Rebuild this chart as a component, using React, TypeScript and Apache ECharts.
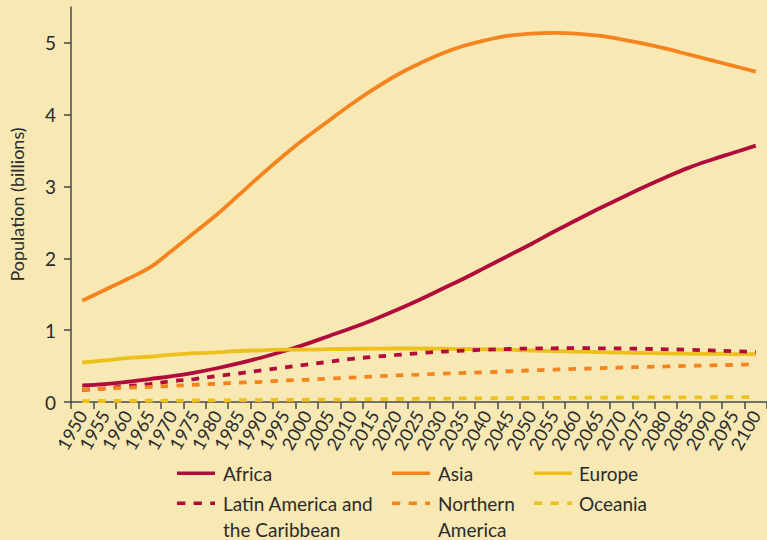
import React, { useEffect, useRef } from 'react';
import * as echarts from 'echarts';

const years = ['1950','1955','1960','1965','1970','1975','1980','1985','1990','1995','2000','2005','2010','2015','2020','2025','2030','2035','2040','2045','2050','2055','2060','2065','2070','2075','2080','2085','2090','2095','2100'];

const africa = [0.23,0.25,0.28,0.32,0.36,0.41,0.47,0.54,0.62,0.71,0.81,0.92,1.03,1.15,1.28,1.42,1.57,1.72,1.88,2.04,2.2,2.37,2.53,2.69,2.84,2.99,3.13,3.26,3.37,3.47,3.57];
const asia = [1.41,1.56,1.71,1.87,2.11,2.36,2.61,2.89,3.17,3.44,3.69,3.92,4.15,4.36,4.55,4.71,4.85,4.96,5.04,5.1,5.13,5.14,5.13,5.1,5.05,4.99,4.92,4.84,4.76,4.68,4.6];
const europe = [0.55,0.58,0.61,0.63,0.66,0.68,0.69,0.71,0.72,0.73,0.73,0.735,0.74,0.742,0.745,0.745,0.742,0.738,0.732,0.725,0.717,0.709,0.701,0.694,0.688,0.682,0.677,0.673,0.67,0.668,0.666];
const latinAmerica = [0.17,0.19,0.22,0.25,0.29,0.32,0.36,0.4,0.44,0.48,0.52,0.56,0.6,0.63,0.655,0.68,0.7,0.715,0.728,0.738,0.745,0.748,0.749,0.748,0.745,0.74,0.734,0.727,0.718,0.708,0.697];
const northernAmerica = [0.17,0.185,0.2,0.21,0.225,0.24,0.255,0.27,0.28,0.3,0.31,0.325,0.34,0.355,0.37,0.38,0.395,0.405,0.415,0.428,0.44,0.45,0.46,0.47,0.48,0.488,0.495,0.503,0.51,0.518,0.525];
const oceania = [0.013,0.014,0.016,0.018,0.02,0.021,0.023,0.025,0.027,0.029,0.031,0.033,0.036,0.039,0.042,0.045,0.047,0.05,0.052,0.054,0.056,0.058,0.059,0.061,0.062,0.063,0.064,0.065,0.066,0.067,0.068];
const yTicks = [0, 1, 2, 3, 4, 5];

const RED = '#B00B3B';
const ORANGE = '#F5841F';
const YELLOW = '#EDC11B';
const BG = '#F7E8B4';
const TEXT = '#2B2B2B';
const AXIS = '#4A4A4A';
const FONT = 'Lato, "Open Sans", sans-serif';

const seriesDefs = [
  { name: 'Africa', data: africa, color: RED, dashed: false },
  { name: 'Asia', data: asia, color: ORANGE, dashed: false },
  { name: 'Europe', data: europe, color: YELLOW, dashed: false },
  { name: 'Latin America and\nthe Caribbean', data: latinAmerica, color: RED, dashed: true },
  { name: 'Northern\nAmerica', data: northernAmerica, color: ORANGE, dashed: true },
  { name: 'Oceania', data: oceania, color: YELLOW, dashed: true },
];

const legendCols = [
  { iconX: 177, textX: 223 },
  { iconX: 392, textX: 438 },
  { iconX: 534, textX: 579 },
];
const legendRows = [473.3, 503.3];

export default function App() {
  const ref = useRef<HTMLDivElement>(null);
  useEffect(() => {
    document.body.style.margin = '0';
    if (!ref.current) return;
    const chart = echarts.init(ref.current, null, { renderer: 'svg' });
    const graphics: any[] = [];
    seriesDefs.forEach((s, i) => {
      const col = legendCols[i % 3];
      const y = legendRows[Math.floor(i / 3)];
      graphics.push({
        type: 'line',
        shape: { x1: col.iconX, y1: y, x2: col.iconX + 38, y2: y },
        style: { stroke: s.color, lineWidth: 3.5, lineDash: s.dashed ? [8.3, 8.3] : null, lineCap: 'butt' },
        silent: true,
      });
      graphics.push({
        type: 'text',
        x: col.textX,
        y: y - 13,
        style: {
          text: s.name,
          fill: TEXT,
          fontFamily: FONT,
          fontSize: 19,
          lineHeight: 26,
          verticalAlign: 'top',
          align: 'left',
        },
        silent: true,
      });
    });
    chart.setOption({
      animation: false,
      backgroundColor: BG,
      grid: { left: 59, right: 0, top: 7, bottom: 138, containLabel: false },
      xAxis: {
        type: 'category',
        data: years,
        boundaryGap: true,
        axisLine: { lineStyle: { color: AXIS, width: 1.5 } },
        axisTick: { show: true, length: 7, lineStyle: { color: AXIS, width: 1.5 } },
        axisLabel: {
          interval: 0,
          rotate: 60,
          margin: 10,
          color: TEXT,
          fontFamily: FONT,
          fontSize: 18,
        },
        splitLine: { show: false },
      },
      yAxis: {
        type: 'value',
        min: 0,
        max: 5.5,
        interval: 1,
        name: 'Population (billions)',
        nameLocation: 'middle',
        nameRotate: 90,
        nameGap: 45,
        nameTextStyle: { color: TEXT, fontFamily: FONT, fontSize: 18 },
        axisLine: { show: true, lineStyle: { color: AXIS, width: 1.5 } },
        axisTick: { show: true, length: 7, customValues: yTicks, lineStyle: { color: AXIS, width: 1.5 } },
        axisLabel: { customValues: yTicks, margin: 15, color: TEXT, fontFamily: FONT, fontSize: 19 },
        splitLine: { show: false },
      },
      series: seriesDefs.map((s) => ({
        name: s.name,
        type: 'line',
        data: s.data,
        smooth: 0.4,
        symbol: 'none',
        lineStyle: { color: s.color, width: 3.8, type: s.dashed ? [7.5, 8.2] : 'solid', cap: 'butt' },
        itemStyle: { color: s.color },
        z: s.dashed ? 3 : 2,
      })),
      graphic: graphics,
    });
    return () => chart.dispose();
  }, []);
  return <div ref={ref} style={{ width: 767, height: 540 }} />;
}
